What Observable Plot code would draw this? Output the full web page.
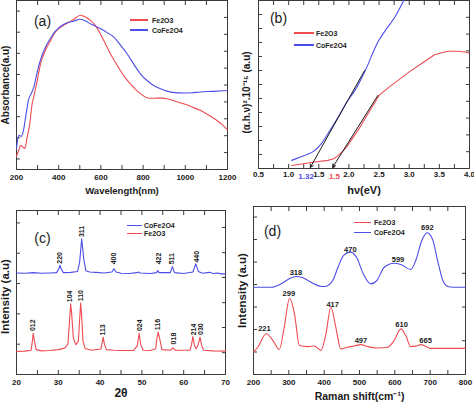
<!DOCTYPE html>
<html><head><meta charset="utf-8">
<script src="https://cdn.jsdelivr.net/npm/d3@7"></script>
<script src="https://cdn.jsdelivr.net/npm/@observablehq/plot@0.6"></script>
<style>
body{margin:0;background:#fff;}
#wrap{position:relative;width:474px;height:403px;overflow:hidden;background:#fff;font-family:"Liberation Sans",Arial,Helvetica,sans-serif;}
.panel{position:absolute;}
.legend{position:absolute;font-size:7px;font-weight:bold;color:#222;white-space:nowrap;}
.legend .row{display:flex;align-items:center;}
.legend .sw{display:inline-block;height:1.2px;}
</style></head>
<body>
<div id="wrap">
  <div class="panel" id="pa" style="left:0;top:0"></div>
  <div class="panel" id="pb" style="left:237px;top:0"></div>
  <div class="panel" id="pc" style="left:0;top:200px"></div>
  <div class="panel" id="pd" style="left:237px;top:200px"></div>
</div>
<script>
// ---------- data ----------
// (a) UV-Vis absorbance
const uvWlFe = [200,212,220,230,240,250,262,274,282,298,314,340,361,380,400,420,440,470,503,520,550,575,597,620,645,670,692,715,739,763,787,805,818,840,866,890,913,950,992,1030,1071,1110,1150,1180,1200];
const uvAbsFe = [0.63,0.95,1.14,1.06,1.0,1.5,2.1,3.1,3.45,4.2,5.0,5.7,6.1,6.45,6.67,6.8,6.92,7.1,7.3,7.25,7.06,6.8,6.43,5.98,5.48,5.05,4.69,4.35,4.06,3.8,3.59,3.47,3.40,3.37,3.38,3.38,3.35,3.24,3.11,2.97,2.80,2.58,2.32,2.08,1.88];
const uvWlCo = [200,207,213,222,232,245,257,270,282,298,314,340,361,380,400,420,440,470,503,530,550,575,597,630,661,692,724,755,787,820,850,880,913,950,992,1030,1071,1130,1200];
const uvAbsCo = [1.0,1.5,1.62,1.56,1.8,2.6,3.3,3.6,3.9,4.6,5.2,5.85,6.2,6.5,6.7,6.85,6.95,7.02,7.11,7.02,6.9,6.78,6.67,6.48,6.27,5.9,5.48,5.0,4.53,4.2,3.98,3.83,3.71,3.64,3.62,3.63,3.67,3.70,3.74];
const uvXTicks = [200,300,400,500,600,700,800,900,1000,1100,1200];
const uvXLabels = [200,400,600,800,1000,1200];
const uvYTicks = [0.5,1.5,2.5,3.5,4.5,5.5,6.5,7.5];
const uvYRightTicks = [0.8,1.6,2.4,3.2,4.0,4.8,5.6,6.4,7.2];

// (b) Tauc plot
const tEnergyFe = [1.05,1.25,1.43,1.65,1.75,1.82,1.9,1.98,2.05,2.15,2.3,2.5,2.65,2.81,3.0,3.2,3.42,3.55,3.65,3.81,3.92,4.0];
const tValFe = [0.11,0.17,0.23,0.29,0.35,0.46,0.62,0.82,1.05,1.36,1.9,2.61,2.88,3.14,3.45,3.74,4.06,4.14,4.19,4.19,4.16,4.12];
const tEnergyCo = [1.05,1.26,1.43,1.54,1.65,1.82,1.98,2.10,2.26,2.49,2.62,2.76,2.92];
const tValCo = [0.29,0.46,0.64,0.88,1.24,1.83,2.43,2.79,3.45,4.55,4.98,5.4,6.05];
const tangentCo = [{x1:2.26, y1:3.5, x2:1.36, y2:0.04}];
const tangentFe = [{x1:2.48, y1:2.61, x2:1.73, y2:0.04}];
const gapText = ["1.32","1.5"];
const gapX = [1.29,1.76];
const tXTicks = [0.5,0.75,1,1.25,1.5,1.75,2,2.25,2.5,2.75,3,3.25,3.5,3.75,4];
const tXLabels = [0.5,1,1.5,2,2.5,3,3.5,4];
const tYTicks = [0.5,1,1.5,2,2.5,3,3.5,4,4.5,5,5.5];
const tYRightTicks = [0.6,1.2,1.8,2.4,3.0,3.6,4.2,4.8,5.4];

// (c) XRD
const xrd2tCo = [20,22,24,26,28,29.6,30.1,30.4,30.7,31.2,33,34.6,35.1,35.6,36.1,36.6,37.5,39,41,42.8,43.3,43.8,45,47,48.8,49.2,49.6,52,53.5,53.8,54.1,56.8,57.3,57.8,60,62.2,62.9,63.5,64.5,66.2,67,68,69,70];
const xrdICo = [3.35,3.34,3.36,3.34,3.35,3.36,3.48,3.60,3.48,3.36,3.37,3.40,3.7,4.48,3.8,3.42,3.38,3.37,3.35,3.38,3.49,3.38,3.34,3.33,3.36,3.38,3.35,3.33,3.36,3.43,3.36,3.36,3.56,3.36,3.33,3.38,3.65,3.40,3.34,3.37,3.33,3.35,3.32,3.32];
const xrd2tFe = [20,22,23.5,23.8,24.0,24.3,24.7,26,28,30,31.5,32.3,32.7,32.95,33.2,33.6,34.2,34.8,35.1,35.35,35.6,35.9,36.4,38,40.2,40.5,40.75,41.0,41.5,43.3,45,48,48.9,49.35,49.7,50.3,52,53.3,53.6,53.9,54.3,54.8,56.8,57.4,58,61.5,61.9,62.2,62.6,63.0,63.5,63.9,64.3,64.8,67,70];
const xrdIFe = [0.76,0.77,0.80,1.1,1.36,1.1,0.82,0.78,0.79,0.82,0.87,1.0,1.8,2.33,2.0,1.2,0.98,1.1,1.8,2.36,1.9,1.1,0.86,0.80,0.84,1.05,1.23,1.02,0.82,0.80,0.79,0.79,0.95,1.36,1.0,0.80,0.79,0.85,1.2,1.40,1.15,0.82,0.80,0.88,0.80,0.80,1.0,1.25,0.95,0.85,1.0,1.23,0.95,0.80,0.78,0.77];
const hklCo = ["220","311","400","422","511","440"];
const hklCoX = [30.4,35.6,43.3,54.0,57.2,63.1];
const hklCoY = [3.62,4.50,3.60,3.60,3.60,3.66];
const hklFe = ["012","104","110","113","024","116","018","214","030"];
const hklFeX = [23.9,32.7,35.3,40.7,49.4,53.8,57.5,62.3,64.0];
const hklFeY = [1.40,2.35,2.38,1.25,1.40,1.43,0.96,1.26,1.27];
const xrdXTicks = [20,25,30,35,40,45,50,55,60,65,70];
const xrdXLabels = [20,30,40,50,60,70];
const xrdYTicks = [1,2,3,4,5];
const xrdYRightTicks = [0.72,1.55,2.37,3.2,4.02,4.85];

// (d) Raman
const ramanCmCo = [200,250,278,300,320,340,363,396,410,425,440,455,474,492,510,532,550,570,598,617,645,660,675,692,708,722,738,752,765,800];
const ramanICo = [3.88,3.88,4.03,4.25,4.36,4.30,4.10,3.91,3.95,4.2,4.8,5.3,5.44,5.2,4.5,4.03,4.2,4.77,4.95,4.89,4.67,5.1,5.9,6.3,5.95,5.0,4.1,3.9,3.88,3.88];
const ramanCmFe = [200,212,236,255,273,287,302,316,330,353,372,391,405,419,433,447,466,485,504,523,551,579,598,617,631,645,659,673,687,701,800];
const ramanIFe = [0.99,1.21,1.81,1.51,1.11,2.10,3.39,2.70,1.29,1.24,1.27,1.07,1.81,2.99,2.10,1.14,1.21,1.27,1.33,1.24,1.18,1.21,1.51,2.03,1.73,1.24,1.26,1.33,1.26,1.16,1.16];
const ramanLabCo = ["318","470","599","692"];
const ramanLabCoX = [320,474,609,692];
const ramanLabCoY = [4.55,5.56,5.10,6.52];
const ramanLabFe = ["221","299","417","497","610","665"];
const ramanLabFeX = [231,300,424,504,619,687];
const ramanLabFeY = [2.03,3.58,3.11,1.51,2.21,1.51];
const ramanXTicks = [200,250,300,350,400,450,500,550,600,650,700,750,800];
const ramanXLabels = [200,300,400,500,600,700,800];
const ramanYTicks = [1,2,3,4,5,6,7];
const ramanYRightTicks = [1.5,3,4.5,6];

const names = {fe:"Fe2O3", co:"CoFe2O4"};

// ---------- styling ----------
const RED = "#ee4b52", BLUE = "#4d4de8", FRAME = "#3a3a3a", INK = "#1a1a1a";
const FONT = '"Liberation Sans", Arial, Helvetica, sans-serif';
const zip = (xs, ys) => xs.map((x, i) => ({x, y: ys[i]}));
const zip3 = (ts, xs, ys) => ts.map((t, i) => ({t, x: xs[i], y: ys[i]}));

function axes(xTicks, xLabels, yTicks, yRight, fmt, pad) {
  return [
    Plot.frame({stroke: FRAME}),
    Plot.axisX({ticks: xTicks, tickSize: -4, tickFormat: () => "", label: null, stroke: FRAME}),
    Plot.axisX({anchor: "top", ticks: xTicks, tickSize: -4, tickFormat: () => "", label: null, stroke: FRAME}),
    Plot.axisX({ticks: xLabels, tickSize: 0, tickPadding: pad, tickFormat: fmt, label: null, fill: INK}),
    Plot.axisY({ticks: yTicks, tickSize: -4, tickFormat: () => "", label: null, stroke: FRAME}),
    Plot.axisY({anchor: "right", ticks: yRight, tickSize: -4, tickFormat: () => "", label: null, stroke: FRAME})
  ];
}
function titles(xl, xdy, xsize, yl, ydx, ysize, ydy, letter, ldx, ldy) {
  return [
    Plot.text([xl], {text: d => d, frameAnchor: "bottom", textAnchor: "middle", lineAnchor: "middle", dy: xdy, fontSize: xsize, fontWeight: "bold", fill: INK}),
    Plot.text([yl], {text: d => d, frameAnchor: "left", textAnchor: "middle", lineAnchor: "middle", dx: ydx, dy: ydy, rotate: -90, fontSize: ysize, fontWeight: "bold", fill: INK}),
    Plot.text([letter], {text: d => d, frameAnchor: "top-left", textAnchor: "middle", lineAnchor: "middle", dx: ldx, dy: ldy, fontSize: 14, fontWeight: "normal", fill: INK})
  ];
}
const baseStyle = {fontFamily: FONT, fontSize: "8px", fontWeight: "bold", background: "transparent", overflow: "visible"};

// (a)
document.getElementById("pa").append(Plot.plot({
  width: 237, height: 200, marginLeft: 16, marginRight: 10, marginTop: 0, marginBottom: 31,
  style: baseStyle,
  x: {domain: [200, 1200]}, y: {domain: [0, 8]},
  marks: [
    ...axes(uvXTicks, uvXLabels, uvYTicks, uvYRightTicks, d3.format("d"), 5),
    Plot.line(zip(uvWlFe, uvAbsFe), {x: "x", y: "y", stroke: RED, strokeWidth: 1.1, curve: "monotone-x"}),
    Plot.line(zip(uvWlCo, uvAbsCo), {x: "x", y: "y", stroke: BLUE, strokeWidth: 1.1, curve: "monotone-x"}),
    ...titles("Wavelength(nm)", 21, 9.5, "Absorbance(a.u)", -11, 10, 0, "(a)", 26, 21)
  ]
}));

// (b)
document.getElementById("pb").append(Plot.plot({
  width: 237, height: 200, marginLeft: 21, marginRight: 5, marginTop: 0, marginBottom: 32,
  style: baseStyle,
  x: {domain: [0.5, 4]}, y: {domain: [0, 6]},
  marks: [
    ...axes(tXTicks, tXLabels, tYTicks, tYRightTicks, d3.format(".1f"), 3),
    Plot.line(zip(tEnergyFe, tValFe), {x: "x", y: "y", stroke: RED, strokeWidth: 1.1, clip: true}),
    Plot.line(zip(tEnergyCo, tValCo), {x: "x", y: "y", stroke: BLUE, strokeWidth: 1.1, clip: true, curve: "monotone-x"}),
    Plot.arrow(tangentCo, {x1: "x1", y1: "y1", x2: "x2", y2: "y2", stroke: INK, strokeWidth: 1, headLength: 5}),
    Plot.arrow(tangentFe, {x1: "x1", y1: "y1", x2: "x2", y2: "y2", stroke: INK, strokeWidth: 1, headLength: 5}),
    Plot.text(zip(gapX, gapText), {x: "x", text: "y", frameAnchor: "bottom", lineAnchor: "middle", dy: 8, fontSize: 8, fontWeight: "bold", fill: (d, i) => i === 0 ? BLUE : RED}),
    ...titles("hν(eV)", 22, 11, "(α.h.ν)².10⁻¹⁵ (a.u)", -12, 10, 8, "(b)", 20, 18)
  ]
}));

// (c)
document.getElementById("pc").append(Plot.plot({
  width: 237, height: 203, marginLeft: 16, marginRight: 12, marginTop: 10, marginBottom: 29,
  style: baseStyle,
  x: {domain: [20, 70]}, y: {domain: [0, 5.41]},
  marks: [
    ...axes(xrdXTicks, xrdXLabels, xrdYTicks, xrdYRightTicks, d3.format("d"), 5),
    Plot.line(zip(xrd2tCo, xrdICo), {x: "x", y: "y", stroke: BLUE, strokeWidth: 1.1}),
    Plot.line(zip(xrd2tFe, xrdIFe), {x: "x", y: "y", stroke: RED, strokeWidth: 1.1}),
    Plot.text(zip3(hklCo, hklCoX, hklCoY), {x: "x", y: "y", text: "t", rotate: -90, textAnchor: "start", dy: -1, fontSize: 7, fill: INK}),
    Plot.text(zip3(hklFe, hklFeX, hklFeY), {x: "x", y: "y", text: "t", rotate: -90, textAnchor: "start", dy: -1, fontSize: 7, fill: INK}),
    ...titles("2θ", 19, 12, "Intensity (a.u)", -11, 11.5, 4, "(c)", 26, 28)
  ]
}));

// (d)
document.getElementById("pd").append(Plot.plot({
  width: 237, height: 203, marginLeft: 16, marginRight: 9, marginTop: 6, marginBottom: 29,
  style: baseStyle,
  x: {domain: [200, 800]}, y: {domain: [0, 7.47]},
  marks: [
    ...axes(ramanXTicks, ramanXLabels, ramanYTicks, ramanYRightTicks, d3.format("d"), 5),
    Plot.line(zip(ramanCmFe, ramanIFe), {x: "x", y: "y", stroke: RED, strokeWidth: 1.1, curve: "monotone-x"}),
    Plot.line(zip(ramanCmCo, ramanICo), {x: "x", y: "y", stroke: BLUE, strokeWidth: 1.1, curve: "monotone-x"}),
    Plot.text(zip3(ramanLabCo, ramanLabCoX, ramanLabCoY), {x: "x", y: "y", text: "t", fontSize: 7.5, fill: INK}),
    Plot.text(zip3(ramanLabFe, ramanLabFeX, ramanLabFeY), {x: "x", y: "y", text: "t", fontSize: 7.5, fill: INK}),
    ...titles("Raman shift(cm⁻¹)", 22, 10.5, "Intensity (a.u)", -11, 11.5, 0, "(d)", 19, 25)
  ]
}));

// legends
function legend(left, top, rowH, sw, gap, items) {
  const div = document.createElement("div");
  div.className = "legend";
  div.style.left = left + "px";
  div.style.top = top + "px";
  for (const [color, label] of items) {
    const row = document.createElement("div");
    row.className = "row";
    row.style.height = rowH + "px";
    const s = document.createElement("span");
    s.className = "sw";
    s.style.width = sw + "px";
    s.style.marginRight = gap + "px";
    s.style.background = color;
    row.append(s, document.createTextNode(label));
    div.append(row);
  }
  document.getElementById("wrap").append(div);
}
legend(130, 15, 10, 18, 4, [[RED, names.fe], [BLUE, names.co]]);
legend(294, 27, 12, 20, 2, [[RED, names.fe], [BLUE, names.co]]);
legend(127, 221, 8.5, 15, 2, [[BLUE, names.co], [RED, names.fe]]);
legend(354, 218, 9.6, 16.5, 3.5, [[RED, names.fe], [BLUE, names.co]]);
</script>
</body></html>
